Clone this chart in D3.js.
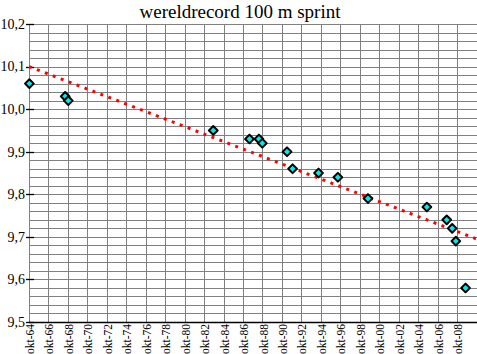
<!DOCTYPE html>
<html>
<head>
<meta charset="utf-8">
<script src="https://cdn.jsdelivr.net/npm/d3@7"></script>
<style>
  body { margin: 0; background: #fff; }
  svg { display: block; }
</style>
</head>
<body>
<div id="chart"></div>
<script>
// records (datum, tijd in s)
var recordDates = ["1964-10-15", "1968-06-20", "1968-10-14", "1983-09-10", "1987-06-01", "1988-05-20",
    "1988-09-24", "1991-04-10", "1991-11-05", "1994-07-06", "1996-07-01", "1999-08-05",
    "2005-08-25", "2007-09-09", "2008-04-01", "2008-08-16", "2009-08-16"];
var recordTimes = [10.06, 10.03, 10.02, 9.95, 9.93, 9.93, 9.92, 9.90, 9.86, 9.85, 9.84, 9.79,
    9.77, 9.74, 9.72, 9.69, 9.58];
// trendlijn begin en eind
var trendDates = ["1964-10-01", "2010-10-01"];
var trendTimes = [10.10, 9.695];
var yTicks = [9.5, 9.6, 9.7, 9.8, 9.9, 10.0, 10.1, 10.2];
var xTickYears = d3.range(1964, 2009, 2);

var width = 477, height = 354;
var margin = {left: 29, right: 1, top: 24, bottom: 32};
var parse = d3.timeParse("%Y-%m-%d");
var fmt = d3.format(".1f");
var serif = "'Liberation Serif'";

var svg = d3.select("#chart").append("svg")
    .attr("width", width).attr("height", height);

var x = d3.scaleTime()
    .domain([parse("1964-10-01"), parse("2010-10-01")])
    .range([margin.left, 476.5]);
var y = d3.scaleLinear()
    .domain([9.5, 10.2])
    .range([height - margin.bottom, margin.top]);

// raster
var grid = svg.append("g").attr("stroke", "#808080").attr("stroke-width", 1).attr("shape-rendering", "crispEdges");
grid.selectAll(".h").data(d3.range(1, 36).map(i => 9.5 + i * 0.02)).enter().append("line")
    .attr("x1", margin.left).attr("x2", width)
    .attr("y1", d => Math.round(y(d)) + 0.5).attr("y2", d => Math.round(y(d)) + 0.5);
grid.selectAll(".v").data(xTickYears).enter().append("line")
    .attr("x1", d => Math.round(x(new Date(d, 9, 1))) + 0.5)
    .attr("x2", d => Math.round(x(new Date(d, 9, 1))) + 0.5)
    .attr("y1", y(10.2)).attr("y2", y(9.5));

// x-as
svg.append("line")
    .attr("x1", margin.left).attr("x2", width)
    .attr("y1", Math.round(y(9.5)) + 0.5).attr("y2", Math.round(y(9.5)) + 0.5)
    .attr("stroke", "#000").attr("stroke-width", 1.5);

svg.selectAll(".xl").data(xTickYears).enter().append("text")
    .attr("transform", d => "translate(" + (x(new Date(d, 9, 1)) + 1) + "," + (y(9.5) + 2) + ") rotate(-90)")
    .attr("text-anchor", "end")
    .attr("dy", "0.35em")
    .attr("font-size", "11.5px")
    .style("font-family", serif)
    .text(d => "okt-" + String(d % 100).padStart(2, "0"));

// y-as
svg.selectAll(".yt").data(yTicks).enter().append("line")
    .attr("x1", 26).attr("x2", 34)
    .attr("y1", d => Math.round(y(d)) + 0.5).attr("y2", d => Math.round(y(d)) + 0.5)
    .attr("stroke", "#000").attr("stroke-width", 1.3);
svg.selectAll(".yl").data(yTicks).enter().append("text")
    .attr("x", 25)
    .attr("y", d => y(d))
    .attr("dy", "0.35em")
    .attr("text-anchor", "end")
    .attr("font-size", "14px")
    .style("font-family", serif)
    .text(d => fmt(d).replace(".", ","));

// trendlijn
svg.append("line")
    .attr("x1", x(parse(trendDates[0]))).attr("y1", y(trendTimes[0]))
    .attr("x2", x(parse(trendDates[1]))).attr("y2", y(trendTimes[1]))
    .attr("stroke", "#ff0000").attr("stroke-width", 3)
    .attr("stroke-dasharray", "3,5.5");

// punten
var sym = d3.symbol().type(d3.symbolSquare).size(38);
svg.selectAll(".pt").data(recordDates).enter().append("path")
    .attr("d", sym)
    .attr("transform", (d, i) => "translate(" + x(parse(d)) + "," + y(recordTimes[i]) + ") rotate(45)")
    .attr("fill", "#00eaea")
    .attr("stroke", "#000")
    .attr("stroke-width", 2)
    .attr("stroke-linejoin", "round");

// titel
svg.append("text")
    .attr("x", 240).attr("y", 18)
    .attr("text-anchor", "middle")
    .attr("font-size", "19px")
    .style("font-family", serif)
    .text("wereldrecord 100 m sprint");
</script>
</body>
</html>
